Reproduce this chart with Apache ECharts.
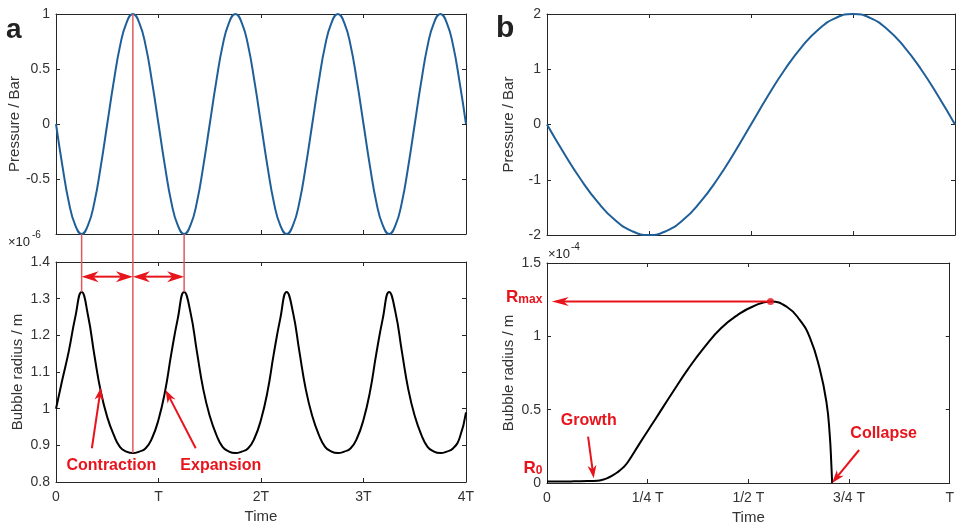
<!DOCTYPE html>
<html>
<head>
<meta charset="utf-8">
<script src="https://cdn.jsdelivr.net/npm/echarts@6/dist/echarts.min.js"></script>
</head>
<body style="margin:0;background:#fff">
<div id="main" style="width:957px;height:527px;"></div>
<script>
// panel a: 16 samples per period T, four periods
var samplesA = 16;
var pressureA = [
    0, -0.38, -0.71, -0.92, -1, -0.92, -0.71, -0.38, 0, 0.38, 0.71, 0.92, 1, 0.92, 0.71, 0.38,
    0, -0.38, -0.71, -0.92, -1, -0.92, -0.71, -0.38, 0, 0.38, 0.71, 0.92, 1, 0.92, 0.71, 0.38,
    0, -0.38, -0.71, -0.92, -1, -0.92, -0.71, -0.38, 0, 0.38, 0.71, 0.92, 1, 0.92, 0.71, 0.38,
    0, -0.38, -0.71, -0.92, -1, -0.92, -0.71, -0.38, 0, 0.38, 0.71, 0.92, 1, 0.92, 0.71, 0.38,
    0
];
var radiusA = [
    1.0, 1.08, 1.157, 1.249, 1.318, 1.254, 1.145, 1.046, 0.977, 0.929, 0.895, 0.883, 0.879, 0.883, 0.892, 0.92,
    0.97, 1.045, 1.15, 1.245, 1.318, 1.262, 1.155, 1.052, 0.98, 0.93, 0.896, 0.883, 0.879, 0.883, 0.892, 0.92,
    0.97, 1.045, 1.15, 1.245, 1.318, 1.262, 1.155, 1.052, 0.98, 0.93, 0.896, 0.883, 0.879, 0.883, 0.892, 0.92,
    0.97, 1.045, 1.15, 1.245, 1.318, 1.262, 1.155, 1.052, 0.98, 0.93, 0.896, 0.883, 0.879, 0.883, 0.892, 0.92,
    0.99
];
// panel b: one period, 24 samples for the pressure
var samplesB = 24;
var pressureB = [0, -0.52, -1, -1.41, -1.73, -1.93, -2, -1.93, -1.73, -1.41, -1, -0.52,
    0, 0.52, 1, 1.41, 1.73, 1.93, 2, 1.93, 1.73, 1.41, 1, 0.52, 0];
var timeB = [0, 0.06, 0.10, 0.125, 0.14, 0.15, 0.16, 0.175, 0.188, 0.2, 0.229, 0.25, 0.269, 0.31, 0.351,
    0.392, 0.432, 0.473, 0.514, 0.555, 0.596, 0.628, 0.653, 0.677, 0.694, 0.702, 0.706, 0.708];
var radiusB = [0.01, 0.011, 0.013, 0.016, 0.024, 0.033, 0.047, 0.073, 0.103, 0.14, 0.265, 0.355, 0.435, 0.61, 0.78,
    0.93, 1.055, 1.145, 1.207, 1.237, 1.20, 1.11, 0.99, 0.78, 0.55, 0.33, 0.13, 0];
var rMax = [0.555, 1.237];
var ticksA = ['0', 'T', '2T', '3T', '4T'];
var ticksB = ['0', '1/4 T', '1/2 T', '3/4 T', 'T'];

var font = 'Liberation Sans, Arial, sans-serif';
var ink = '#262626';
var red = '#e8141c';

function pairs(xs, ys) {
    return ys.map(function (y, i) { return [xs[i], y]; });
}
var timeA = pressureA.map(function (v, i) { return i / samplesA; });
var timeB24 = pressureB.map(function (v, i) { return i / samplesB; });

var grids = [
    { left: 56, top: 14, width: 410, height: 220 },
    { left: 56, top: 262, width: 410, height: 220 },
    { left: 547, top: 14, width: 408, height: 221 },
    { left: 547, top: 263, width: 408, height: 220 }
];

function xAx(g, pos, max, interval, labels, name) {
    return {
        type: 'value', gridIndex: g, position: pos, min: 0, max: max, interval: interval,
        axisLine: { show: true, onZero: false, lineStyle: { color: ink, width: 1 } },
        axisTick: { show: true, inside: true, length: 4, lineStyle: { color: ink } },
        splitLine: { show: false },
        axisLabel: {
            show: !!labels, margin: 8, color: '#333', fontSize: 14, fontFamily: font,
            showMinLabel: true, showMaxLabel: true,
            formatter: function (v) { return labels ? labels[Math.round(v / interval)] : ''; }
        },
        name: name || '', nameLocation: 'middle', nameGap: 27,
        nameTextStyle: { color: '#333', fontSize: 15, fontFamily: font }
    };
}
function yAx(g, pos, min, max, interval, showLabel, name, hideMin) {
    return {
        type: 'value', gridIndex: g, position: pos, min: min, max: max, interval: interval,
        axisLine: { show: true, onZero: false, lineStyle: { color: ink, width: 1 } },
        axisTick: { show: true, inside: true, length: 4, lineStyle: { color: ink } },
        splitLine: { show: false },
        axisLabel: { show: showLabel, margin: 6, color: '#333', fontSize: 14, fontFamily: font,
            showMinLabel: !hideMin, showMaxLabel: true },
        name: name || '', nameLocation: 'middle', nameGap: 31,
        nameTextStyle: { color: '#333', fontSize: 15, fontFamily: font }
    };
}

var option = {
    animation: false,
    backgroundColor: '#fff',
    grid: grids,
    xAxis: [
        xAx(0, 'bottom', 4, 1, null), xAx(0, 'top', 4, 1, null),
        xAx(1, 'bottom', 4, 1, ticksA, 'Time'), xAx(1, 'top', 4, 1, null),
        xAx(2, 'bottom', 1, 0.25, null), xAx(2, 'top', 1, 0.25, null),
        xAx(3, 'bottom', 1, 0.25, ticksB, 'Time'), xAx(3, 'top', 1, 0.25, null)
    ],
    yAxis: [
        yAx(0, 'left', -1, 1, 0.5, true, 'Pressure / Bar', true), yAx(0, 'right', -1, 1, 0.5, false),
        yAx(1, 'left', 0.8, 1.4, 0.1, true, 'Bubble radius / m'), yAx(1, 'right', 0.8, 1.4, 0.1, false),
        yAx(2, 'left', -2, 2, 1, true, 'Pressure / Bar'), yAx(2, 'right', -2, 2, 1, false),
        yAx(3, 'left', 0, 1.5, 0.5, true, 'Bubble radius / m'), yAx(3, 'right', 0, 1.5, 0.5, false)
    ],
    series: [
        { type: 'line', xAxisIndex: 0, yAxisIndex: 0, data: pairs(timeA, pressureA), smooth: true,
          showSymbol: false, lineStyle: { color: '#1f5f98', width: 2 } },
        { type: 'line', xAxisIndex: 2, yAxisIndex: 2, data: pairs(timeA, radiusA), smooth: true,
          showSymbol: false, lineStyle: { color: '#000', width: 2 } },
        { type: 'line', xAxisIndex: 4, yAxisIndex: 4, data: pairs(timeB24, pressureB), smooth: true,
          showSymbol: false, lineStyle: { color: '#1f5f98', width: 2 } },
        { type: 'line', xAxisIndex: 6, yAxisIndex: 6, data: pairs(timeB, radiusB), smooth: 0.5,
          showSymbol: false, lineStyle: { color: '#000', width: 2 } },
        { type: 'scatter', xAxisIndex: 6, yAxisIndex: 6, data: [rMax], symbolSize: 7,
          itemStyle: { color: red }, z: 5 }
    ]
};

var chart = echarts.init(document.getElementById('main'));
chart.setOption(option);

// annotations, positioned from data coordinates
function px(si, p) { return chart.convertToPixel({ seriesIndex: si }, p); }
function seg(p0, p1, color, w) {
    return { type: 'line', z: 10, shape: { x1: p0[0], y1: p0[1], x2: p1[0], y2: p1[1] },
        style: { stroke: color, lineWidth: w } };
}
function head(tip, from, len, half) {
    var dx = tip[0] - from[0], dy = tip[1] - from[1], d = Math.sqrt(dx * dx + dy * dy);
    var ux = dx / d, uy = dy / d, nx = -uy, ny = ux;
    var bx = tip[0] - ux * len, by = tip[1] - uy * len;
    return { type: 'polygon', z: 11, shape: { points: [tip, [bx + nx * half, by + ny * half],
        [tip[0] - ux * len * 0.7, tip[1] - uy * len * 0.7], [bx - nx * half, by - ny * half]] },
        style: { fill: red } };
}
function arrow(from, tip, len, half, both) {
    var dx = tip[0] - from[0], dy = tip[1] - from[1], d = Math.sqrt(dx * dx + dy * dy);
    var ux = dx / d, uy = dy / d;
    var a = both ? [from[0] + ux * len * 0.6, from[1] + uy * len * 0.6] : from;
    var out = [seg(a, [tip[0] - ux * len * 0.6, tip[1] - uy * len * 0.6], red, 2), head(tip, from, len, half)];
    if (both) out.push(head(from, tip, len, half));
    return out;
}
function label(p, text, align) {
    return { type: 'text', z: 12, x: p[0], y: p[1], style: { text: text, fill: red,
        font: 'bold 16px ' + font, align: align || 'center', verticalAlign: 'middle' } };
}
function plain(x, y, text, size, weight) {
    return { type: 'text', x: x, y: y, style: { text: text, fill: '#222',
        font: (weight || 'normal') + ' ' + size + 'px ' + font, align: 'left', verticalAlign: 'middle' } };
}

var vline = '#e0585c';
var g = [];
g.push(seg(px(0, [0.25, -1]), px(1, [0.25, 1.318]), vline, 1.5));
g.push(seg(px(0, [0.75, 1]), px(1, [0.75, 0.879]), vline, 1.5));
g.push(seg(px(0, [1.25, -1]), px(1, [1.25, 1.318]), vline, 1.5));
g = g.concat(arrow(px(1, [0.25, 1.36]), px(1, [0.75, 1.36]), 17, 5.5, true));
g = g.concat(arrow(px(1, [0.75, 1.36]), px(1, [1.25, 1.36]), 17, 5.5, true));
g = g.concat(arrow(px(1, [0.35, 0.892]), px(1, [0.438, 1.058]), 13, 4.5));
g = g.concat(arrow(px(1, [1.363, 0.892]), px(1, [1.069, 1.051]), 13, 4.5));
g.push(label(px(1, [0.54, 0.846]), 'Contraction'));
g.push(label(px(1, [1.608, 0.846]), 'Expansion'));

g = g.concat(arrow(px(3, rMax), px(3, [0.012, 1.237]), 17, 4.5));
g = g.concat(arrow(px(3, [0.102, 0.316]), px(3, [0.116, 0.032]), 13, 4.5));
g = g.concat(arrow(px(3, [0.775, 0.225]), px(3, [0.708, 0.0]), 13, 4.5));
g.push(label(px(3, [0.1036, 0.425]), 'Growth'));
g.push(label(px(3, [0.836, 0.337]), 'Collapse'));
var rm = px(3, [-0.0115, 1.265]);
g.push({ type: 'text', z: 12, x: rm[0], y: rm[1], style: { text: '{r|R}{s|max}', align: 'right',
    verticalAlign: 'middle', rich: { r: { fill: red, font: 'bold 17px ' + font },
    s: { fill: red, font: 'bold 12px ' + font, padding: [4, 0, 0, 0] } } } });
var r0 = px(3, [-0.0115, 0.1]);
g.push({ type: 'text', z: 12, x: r0[0], y: r0[1], style: { text: '{r|R}{s|0}', align: 'right',
    verticalAlign: 'middle', rich: { r: { fill: red, font: 'bold 17px ' + font },
    s: { fill: red, font: 'bold 12px ' + font, padding: [4, 0, 0, 0] } } } });

// exponent labels and panel letters
g.push(plain(8, 242, '×10', 13));
g.push(plain(32, 235, '-6', 10));
g.push(plain(548, 254, '×10', 13));
g.push(plain(571, 247, '-4', 10));
g.push(plain(6, 30, 'a', 28, 'bold'));
g.push(plain(496, 29, 'b', 30, 'bold'));

chart.setOption({ graphic: g });
</script>
</body>
</html>
